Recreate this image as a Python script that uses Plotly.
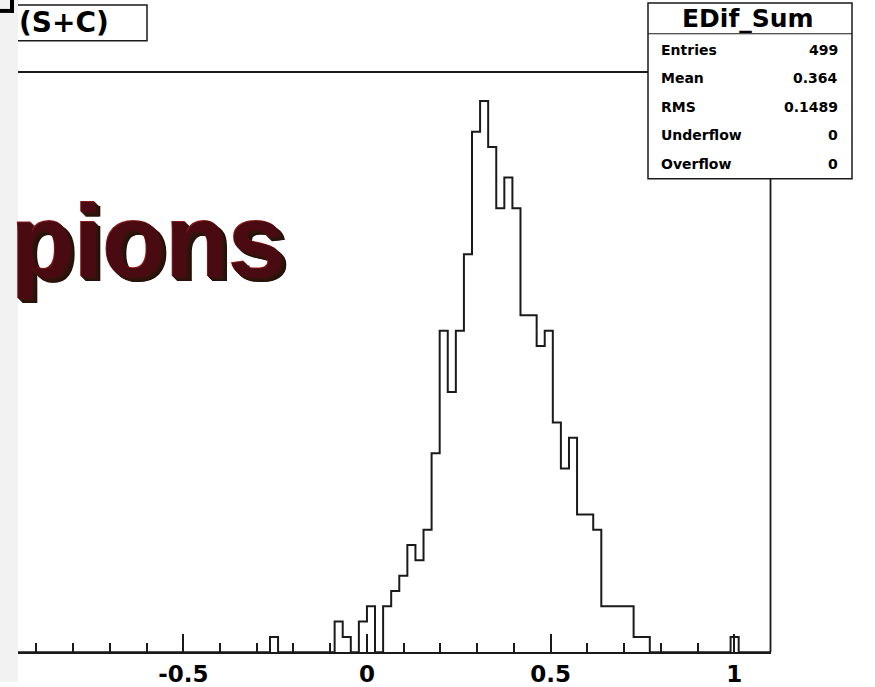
import plotly.graph_objects as go

# Histogram binning and contents (EDif_Sum, 100 bins on [-1.1, 1.1])
n_bins = 100
x_low = -1.1
x_high = 1.1
counts = [
    0, 0, 0, 0, 0, 0, 0, 0, 0, 0,
    0, 0, 0, 0, 0, 0, 0, 0, 0, 0,
    0, 0, 0, 0, 0, 0, 0, 0, 0, 0,
    0, 0, 0, 0, 0, 0, 0, 0, 1, 0,
    0, 0, 0, 0, 0, 0, 2, 1, 0, 2,
    3, 0, 3, 4, 5, 7, 6, 8, 13, 21,
    17, 21, 26, 34, 36, 33, 29, 31, 29, 22,
    22, 20, 21, 15, 12, 14, 9, 9, 8, 3,
    3, 3, 3, 1, 1, 0, 0, 0, 0, 0,
    0, 0, 0, 0, 0, 1, 0, 0, 0, 0,
]

# Statistics box contents
hist_name = "EDif_Sum"
stat_labels = ["Entries", "Mean", "RMS", "Underflow", "Overflow"]
stat_values = ["499", "0.364", "0.1489", "0", "0"]

title_text = "(S+C)"
overlay_text = "pions"
tick_values = [-0.5, 0, 0.5, 1]
tick_labels = ["-0.5", "0", "0.5", "1"]

W, H = 875, 687


def px(p):
    return p / W


def py(p):
    return 1 - p / H


bin_w = (x_high - x_low) / n_bins
edges = [x_low + i * bin_w for i in range(n_bins + 1)]
xs = [edges[0]] + edges[:-1] + [edges[-1], edges[-1]]
ys = [0] + counts + [counts[-1], 0]

fig = go.Figure()
fig.add_trace(go.Scatter(
    x=xs, y=ys, mode="lines", line_shape="hv",
    line=dict(color="#1a1a1a", width=2), hoverinfo="skip", showlegend=False,
))

ymax = 1.05 * max(counts)
frame_col = "#1a1a1a"

fig.update_layout(
    width=W, height=H, autosize=False,
    margin=dict(l=0, r=0, t=0, b=0),
    paper_bgcolor="white", plot_bgcolor="white",
    showlegend=False,
    xaxis=dict(
        domain=[px(18), px(771)], range=[-0.95, x_high],
        showgrid=False, zeroline=False,
        showline=True, linecolor=frame_col, linewidth=1.5, mirror=True,
        ticks="inside", ticklen=18, tickwidth=1.5, tickcolor=frame_col,
        tickmode="array", tickvals=tick_values, ticktext=tick_labels,
        tickfont=dict(family="DejaVu Sans", size=23, color="black", weight="bold"),
        minor=dict(ticks="inside", ticklen=9, tickwidth=1.5, tickcolor=frame_col,
                   dtick=0.1, tick0=0, showgrid=False),
    ),
    yaxis=dict(
        domain=[py(657), py(74)], range=[0, ymax],
        showgrid=False, zeroline=False, showline=False,
        showticklabels=False, ticks="",
    ),
)

shapes = []
# right edge of the frame
shapes.append(dict(type="line", xref="paper", yref="paper",
                   x0=px(770.5), x1=px(770.5), y0=py(657), y1=py(74),
                   line=dict(color=frame_col, width=1.8), layer="above"))
# title box
shapes.append(dict(type="rect", xref="paper", yref="paper",
                   x0=px(4), x1=px(147), y0=py(41), y1=py(5),
                   fillcolor="white", line=dict(color=frame_col, width=1.5), layer="above"))
# left grey strip of the canvas
shapes.append(dict(type="rect", xref="paper", yref="paper",
                   x0=0, x1=px(18), y0=0, y1=1,
                   fillcolor="#f2f2f2", line=dict(width=0), layer="above"))
# dark corner at the top left
shapes.append(dict(type="rect", xref="paper", yref="paper",
                   x0=0, x1=px(14), y0=py(13), y1=py(9),
                   fillcolor="black", line=dict(width=0), layer="above"))
shapes.append(dict(type="rect", xref="paper", yref="paper",
                   x0=px(10), x1=px(14), y0=py(13), y1=1,
                   fillcolor="black", line=dict(width=0), layer="above"))
# statistics box
shapes.append(dict(type="rect", xref="paper", yref="paper",
                   x0=px(648), x1=px(852), y0=py(180), y1=py(3),
                   fillcolor="white", line=dict(color=frame_col, width=1.5), layer="above"))
shapes.append(dict(type="line", xref="paper", yref="paper",
                   x0=px(648), x1=px(852), y0=py(34), y1=py(34),
                   line=dict(color=frame_col, width=1.2), layer="above"))
fig.update_layout(shapes=shapes)

ann = []
# title text
ann.append(dict(text=title_text, xref="paper", yref="paper",
                x=px(17), y=py(23), xanchor="left", yanchor="middle", showarrow=False,
                font=dict(family="DejaVu Sans", size=28, color="black", weight="bold")))

# stats box header and rows
ann.append(dict(text=hist_name, xref="paper", yref="paper",
                x=px(748), y=py(19), xanchor="center", yanchor="middle", showarrow=False,
                font=dict(family="DejaVu Sans", size=25, color="black", weight="bold")))
row_y = [50, 79, 108, 136, 165]
for lab, val, yy in zip(stat_labels, stat_values, row_y):
    ann.append(dict(text=lab, xref="paper", yref="paper",
                    x=px(659), y=py(yy), xanchor="left", yanchor="middle", showarrow=False,
                    font=dict(family="DejaVu Sans", size=14, color="black", weight="bold")))
    ann.append(dict(text=val, xref="paper", yref="paper",
                    x=px(840), y=py(yy), xanchor="right", yanchor="middle", showarrow=False,
                    font=dict(family="DejaVu Sans", size=14, color="black", weight="bold")))

# "pions" label: maroon face with a red rim and a dark extruded shadow
pions_shadow = ("-1px -1px 0 #8a1c1c, 1px 1px 0 #33150c, 2px 2px 0 #30140b, "
                "3px 3px 0 #2c130a, 4px 4px 0 #28110a, 5px 4px 0 #24100a")
ann.append(dict(text=overlay_text, xref="paper", yref="paper",
                x=px(9), y=py(243), xanchor="left", yanchor="middle",
                showarrow=False,
                font=dict(family="Liberation Sans", size=103, color="#4a0a12",
                          weight="bold", shadow=pions_shadow)))

fig.update_layout(annotations=ann)

fig.write_html("out.html")
